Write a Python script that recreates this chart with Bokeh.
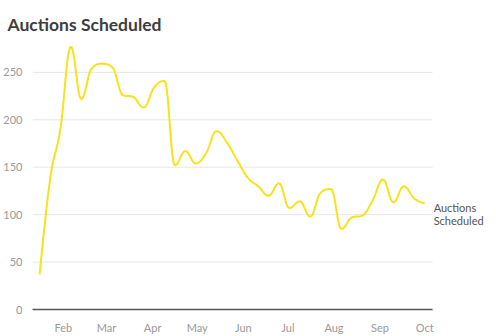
import numpy as np
import pandas as pd
from bokeh.plotting import figure
from bokeh.models import Range1d, FixedTicker, DatetimeTickFormatter, Label
from bokeh.embed import file_html
from bokeh.resources import INLINE

# ---- data ----
title_text = "Auctions Scheduled"
series_lines = ["Auctions", "Scheduled"]
start_date = "2020-01-16"
values = [37, 137, 191, 277, 222, 254, 259, 255, 226, 224, 213, 234, 241,
          152, 167, 154, 165, 188, 176, 157, 139, 130, 120, 133, 107, 114,
          98, 123, 127, 85, 97, 99, 115, 137, 113, 130, 117, 112]
month_starts = ["2020-02-01", "2020-03-01", "2020-04-01", "2020-05-01", "2020-06-01",
                "2020-07-01", "2020-08-01", "2020-09-01", "2020-10-01"]
y_ticks = [0, 50, 100, 150, 200, 250]

dates = pd.date_range(start_date, periods=len(values), freq="7D")
xs = (dates.astype("int64") // 10**6).astype(float).to_numpy()
ys = np.array(values, dtype=float)


def spline(xs, ys, smoothing=1.5, steps=20):
    n = len(xs)
    denom = smoothing + 1
    lc = [(xs[i], ys[i]) for i in range(n)]
    rc = [(xs[i], ys[i]) for i in range(n)]
    for i in range(1, n - 1):
        lx, ly = xs[i - 1], ys[i - 1]
        nx, ny = xs[i + 1], ys[i + 1]
        px, py = xs[i], ys[i]
        lcx = (smoothing * px + lx) / denom
        lcy = (smoothing * py + ly) / denom
        rcx = (smoothing * px + nx) / denom
        rcy = (smoothing * py + ny) / denom
        if rcx != lcx:
            corr = ((rcy - lcy) * (rcx - px)) / (rcx - lcx) + py - rcy
            lcy += corr
            rcy += corr
        if lcy > ly and lcy > py:
            lcy = max(ly, py); rcy = 2 * py - lcy
        elif lcy < ly and lcy < py:
            lcy = min(ly, py); rcy = 2 * py - lcy
        if rcy > ny and rcy > py:
            rcy = max(ny, py); lcy = 2 * py - rcy
        elif rcy < ny and rcy < py:
            rcy = min(ny, py); lcy = 2 * py - rcy
        lc[i] = (lcx, lcy)
        rc[i] = (rcx, rcy)
    outx, outy = [xs[0]], [ys[0]]
    t = np.linspace(0, 1, steps)[1:]
    for i in range(1, n):
        p0 = np.array([xs[i - 1], ys[i - 1]])
        c1 = np.array(rc[i - 1])
        c2 = np.array(lc[i])
        p3 = np.array([xs[i], ys[i]])
        tt = t[:, None]
        pts = ((1 - tt) ** 3) * p0 + 3 * ((1 - tt) ** 2) * tt * c1 + 3 * (1 - tt) * tt ** 2 * c2 + tt ** 3 * p3
        outx.extend(pts[:, 0]); outy.extend(pts[:, 1])
    return outx, outy


sx, sy = spline(xs, ys)

day = 86400000.0
feb1 = pd.Timestamp("2020-02-01").value / 10**6
oct1 = pd.Timestamp("2020-10-01").value / 10**6
x_start = feb1 - 20.81 * day
x_axis_end = oct1 + 5.37 * day
x_end = oct1 + 45.65 * day

p = figure(width=496, height=336, x_axis_type="datetime",
           output_backend="svg", toolbar_location=None,
           x_range=Range1d(x_start, x_end), y_range=Range1d(0, 283.6),
           min_border_left=31, min_border_right=4, min_border_top=40,
           min_border_bottom=26, title=title_text)

p.title.text_font = "Lato"
p.title.text_font_style = "bold"
p.title.text_font_size = "17.5px"
p.title.text_color = "#3d3d3d"
p.title.offset = -25
p.title.standoff = 12

p.outline_line_color = None
p.background_fill_color = "white"
p.border_fill_color = "white"

# horizontal grid lines limited to the plot width
p.xgrid.visible = False
p.ygrid.visible = False
p.segment(x0=x_start, x1=x_axis_end, y0=y_ticks[1:], y1=y_ticks[1:],
          line_color="#e6e6e6", line_width=1)

p.line(sx, sy, line_color="#f7e21b", line_width=2)

p.yaxis.ticker = FixedTicker(ticks=y_ticks)
p.yaxis.axis_line_color = None
p.yaxis.major_tick_line_color = None
p.yaxis.minor_tick_line_color = None
p.yaxis.major_label_text_color = "#999999"
p.yaxis.major_label_text_font = "Lato"
p.yaxis.major_label_text_font_size = "11px"
p.yaxis.major_label_standoff = 4

tick_ms = [pd.Timestamp(m).value / 10**6 for m in month_starts]
p.xaxis.ticker = FixedTicker(ticks=tick_ms)
p.xaxis.bounds = (x_start, x_axis_end)
p.xaxis.formatter = DatetimeTickFormatter(months="%b", days="%b", years="%b", hours="%b")
p.xaxis.axis_line_color = "#555555"
p.xaxis.axis_line_width = 1.5
p.xaxis.major_tick_line_color = None
p.xaxis.minor_tick_line_color = None
p.xaxis.major_label_text_color = "#999999"
p.xaxis.major_label_text_font = "Lato"
p.xaxis.major_label_text_font_size = "11px"
p.xaxis.major_label_standoff = 5

for k, line_text in enumerate(series_lines):
    lab = Label(x=xs[-1], y=ys[-1], text=line_text, x_offset=9, y_offset=2 - 13 * k,
                text_baseline="top", text_align="left", text_font="Lato",
                text_font_size="11px", text_color="#555555")
    p.add_layout(lab)

open("out.html", "w").write(file_html(p, INLINE))
